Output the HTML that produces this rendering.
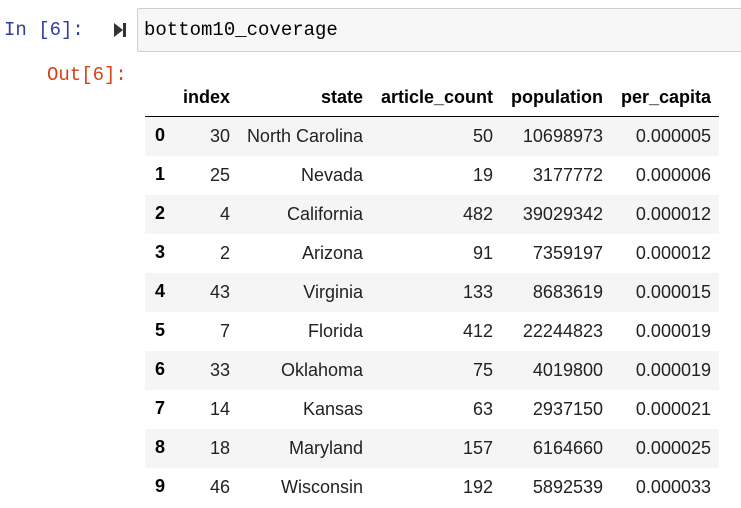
<!DOCTYPE html>
<html><head><meta charset="utf-8"><style>
body{margin:0;width:741px;height:508px;background:#fff;overflow:hidden;position:relative;font-family:"Liberation Sans",Arial,sans-serif;}
.mono{font-family:"Liberation Mono","DejaVu Sans Mono",monospace;font-size:19px;position:absolute;}
#inbox{position:absolute;left:137px;top:8px;width:610px;height:42px;background:#f7f7f7;border:1px solid #cfcfcf;border-radius:2px;}
table{position:absolute;left:145px;top:78px;border-collapse:collapse;font-size:18px;color:#000;table-layout:fixed;width:574px;}
th{font-weight:bold;text-align:right;height:38px;padding:0 8px 0 0;border-bottom:1px solid #000;white-space:nowrap;}
td{text-align:right;height:39px;padding:0 8px 0 0;color:#222;white-space:nowrap;}
td.i{font-weight:bold;text-align:left;color:#000;vertical-align:top;padding:8px 0 0 10px;height:31px;}
tr:nth-child(odd) td{background:#f5f5f5;}
</style></head><body>
<div class="mono" style="left:4px;top:19px;color:#303f9f;">In [6]:</div>
<div style="position:absolute;left:114px;top:23px;width:0;height:0;border-left:9px solid #333;border-top:7px solid transparent;border-bottom:7px solid transparent;"></div>
<div style="position:absolute;left:123px;top:23px;width:3px;height:14px;background:#333;"></div>
<div id="inbox"></div>
<div class="mono" style="left:144px;top:19px;color:#000;">bottom10_coverage</div>
<div class="mono" style="left:47px;top:64px;color:#d84315;">Out[6]:</div>
<table>
<colgroup><col style="width:30px"><col style="width:63px"><col style="width:133px"><col style="width:130px"><col style="width:110px"><col style="width:108px"></colgroup>
<thead><tr><th></th><th>index</th><th>state</th><th>article_count</th><th>population</th><th>per_capita</th></tr></thead>
<tbody>
<tr><td class="i">0</td><td>30</td><td>North Carolina</td><td>50</td><td>10698973</td><td>0.000005</td></tr>
<tr><td class="i">1</td><td>25</td><td>Nevada</td><td>19</td><td>3177772</td><td>0.000006</td></tr>
<tr><td class="i">2</td><td>4</td><td>California</td><td>482</td><td>39029342</td><td>0.000012</td></tr>
<tr><td class="i">3</td><td>2</td><td>Arizona</td><td>91</td><td>7359197</td><td>0.000012</td></tr>
<tr><td class="i">4</td><td>43</td><td>Virginia</td><td>133</td><td>8683619</td><td>0.000015</td></tr>
<tr><td class="i">5</td><td>7</td><td>Florida</td><td>412</td><td>22244823</td><td>0.000019</td></tr>
<tr><td class="i">6</td><td>33</td><td>Oklahoma</td><td>75</td><td>4019800</td><td>0.000019</td></tr>
<tr><td class="i">7</td><td>14</td><td>Kansas</td><td>63</td><td>2937150</td><td>0.000021</td></tr>
<tr><td class="i">8</td><td>18</td><td>Maryland</td><td>157</td><td>6164660</td><td>0.000025</td></tr>
<tr><td class="i">9</td><td>46</td><td>Wisconsin</td><td>192</td><td>5892539</td><td>0.000033</td></tr>
</tbody></table>
</body></html>
